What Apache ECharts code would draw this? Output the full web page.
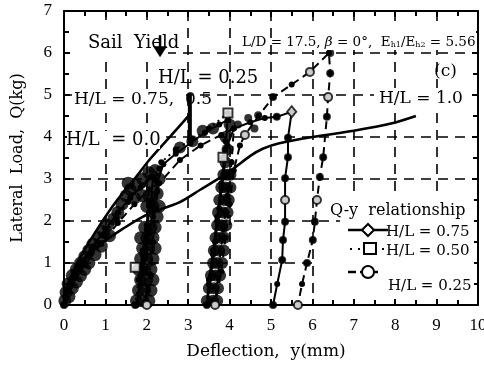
<!DOCTYPE html>
<html>
<head>
<meta charset="utf-8">
<script src="https://cdn.jsdelivr.net/npm/echarts@6/dist/echarts.min.js"></script>
<style>
  html, body { margin: 0; padding: 0; background: #fff; }
  #chart { width: 484px; height: 369px; }
</style>
</head>
<body>
<div id="chart"></div>
<script>
// Axis ticks
const xTicks = [0, 1, 2, 3, 4, 5, 6, 7, 8, 9, 10];
const yTicks = [0, 1, 2, 3, 4, 5, 6, 7];

// Envelope curves, deflection y (mm) vs lateral load Q (kg)
const envelopeHL10 = [[0,0],[0.1,0.45],[0.3,0.85],[0.6,1.2],[0.95,1.5],[1.4,1.8],[1.9,2.1],[2.4,2.3],[2.8,2.45],[3.3,2.75],[3.8,3.05],[4.1,3.25],[4.5,3.55],[4.8,3.72],[5.2,3.85],[6.0,4.0],[7.0,4.15],[7.9,4.32],[8.5,4.5]];
const envelopeHL00 = [[0,0],[0.05,0.35],[0.15,0.65],[0.4,1.15],[0.8,1.8],[1.25,2.45],[1.7,3.0],[2.1,3.5],[2.6,4.05],[3.05,4.55]];
const sailYieldBar = [[3.04,3.8],[3.04,5.05]];

// Q-y loops (loading / unloading / reloading)
const loopHL075 = [[0,0],[0.15,0.5],[0.4,1.0],[0.7,1.4],[1.0,1.8],[1.3,2.2],[1.6,2.55],[1.9,2.85],[2.15,3.05],
  [2.1,2.5],[2.0,1.9],[1.9,1.3],[1.85,0.7],[1.75,0],
  [1.85,0.5],[1.95,1.1],[2.05,1.7],[2.15,2.3],[2.25,2.9],[2.4,3.35],
  [2.7,3.6],[3.05,3.85],[3.4,4.1],[3.75,4.3],[3.95,4.4],
  [3.9,3.7],[3.8,2.9],[3.7,2.1],[3.6,1.3],[3.5,0.6],[3.45,0],
  [3.55,0.7],[3.65,1.5],[3.75,2.3],[3.85,3.1],[3.95,3.8],[4.1,4.2],
  [4.5,4.35],[4.85,4.45],[5.14,4.48],[5.5,4.6],
  [5.41,3.98],[5.41,3.52],[5.34,3.02],[5.34,2.5],[5.34,1.98],[5.29,1.55],[5.27,1.07],[5.15,0.5],[5.05,0]];
const loopHL050 = [[0,0],[0.1,0.35],[0.35,0.85],[0.65,1.25],[0.95,1.65],[1.25,2.05],[1.55,2.45],[1.85,2.8],[2.1,3.05],[2.3,3.25],
  [2.25,2.7],[2.15,2.1],[2.05,1.5],[1.9,0.8],[1.72,0],
  [1.8,0.6],[1.9,1.2],[2.0,1.8],[2.1,2.4],[2.2,3.0],[2.35,3.4],
  [2.7,3.7],[3.1,3.95],[3.5,4.2],[3.96,4.57],
  [3.9,3.9],[3.84,3.52],[3.8,2.8],[3.7,2.0],[3.6,1.2],[3.5,0.5],[3.45,0]];
const loopHL025 = [[0,0],[0.2,0.5],[0.5,0.95],[0.9,1.45],[1.3,1.95],[1.7,2.4],[2.05,2.75],
  [2.05,2.2],[2.0,1.5],[1.95,0.8],[2.0,0],
  [2.1,0.7],[2.15,1.5],[2.2,2.3],[2.3,2.9],
  [2.8,3.45],[3.3,3.8],[3.8,4.05],[4.1,4.2],
  [4.05,3.4],[3.95,2.6],[3.85,1.8],[3.75,1.0],[3.65,0],
  [3.8,0.8],[3.9,1.6],[4.0,2.4],[4.1,3.2],[4.25,3.8],[4.37,4.05],[4.7,4.5],[5.05,4.95],[5.5,5.25],[5.94,5.55],[6.4,6.0],
  [6.43,5.52],[6.38,4.95],[6.35,4.48],[6.26,3.52],[6.18,3.05],[6.11,2.5],[6.06,1.98],[6.01,1.55],[5.87,1.0],[5.75,0.5],[5.65,0]];

// Open marks that stay visible on the loops
const openDiamonds = [[5.5,4.6]];
const openSquares = [[3.96,4.57],[3.84,3.52],[1.72,0.9]];
const openCircles = [[5.34,2.5],[6.11,2.5],[5.94,5.55],[4.37,4.05],[2.0,0],[3.65,0],[5.65,0],[6.38,4.95]];

// Individual measured readings (filled marks)
const readingsNearOrigin = [[0.02,0.1],[0.05,0.3],[0.12,0.2],[0.1,0.5],[0.2,0.4],[0.2,0.7],[0.3,0.55],[0.3,0.85],[0.4,0.7],[0.4,1.0],[0.5,0.85],[0.5,1.15],[0.6,1.0],[0.6,1.3],[0.7,1.45],[0.75,1.2],[0.85,1.6],[0.9,1.4],[0.95,1.75],[1.05,1.9],[1.1,1.65],[1.2,2.05],[1.3,2.2],[1.4,2.4],[1.5,2.6],[1.6,2.75],[1.75,2.85],[1.55,2.9],[1.9,3.0],[2.05,3.15]];
const readingsAt2mm = [[1.75,0.1],[1.9,0.1],[2.05,0.1],[1.8,0.35],[1.95,0.35],[2.1,0.35],[1.85,0.6],[2.0,0.6],[2.15,0.6],[1.8,0.85],[1.95,0.85],[2.1,0.85],[1.85,1.1],[2.0,1.1],[2.15,1.1],[1.9,1.35],[2.05,1.35],[2.2,1.35],[1.85,1.6],[2.0,1.6],[2.15,1.6],[1.95,1.85],[2.1,1.85],[2.2,1.85],[2.25,2.1],[2.0,2.35],[2.15,2.35],[2.3,2.35],[2.05,2.6],[2.25,2.65],[1.9,2.6],[2.1,2.9],[2.3,3.0],[2.2,3.2],[1.7,2.55]];
const readingsAt4mm = [[3.45,0.1],[3.6,0.1],[3.7,0.1],[3.5,0.4],[3.62,0.4],[3.72,0.4],[3.55,0.7],[3.66,0.7],[3.77,0.7],[3.6,1.0],[3.7,1.0],[3.82,1.0],[3.62,1.3],[3.74,1.3],[3.86,1.3],[3.66,1.6],[3.78,1.6],[3.88,1.6],[3.7,1.9],[3.8,1.9],[3.92,1.9],[3.72,2.2],[3.84,2.2],[3.95,2.2],[3.75,2.5],[3.87,2.5],[3.98,2.5],[3.8,2.8],[3.9,2.8],[4.02,2.8],[3.85,3.1],[3.95,3.1],[4.02,3.1],[3.9,3.4],[3.95,3.7],[3.9,4.0],[4.0,4.3],[3.35,4.15],[3.6,4.2],[2.8,3.75],[3.1,3.9]];
const readingsRight = [[5.14,4.48],[5.41,3.98],[5.41,3.52],[5.34,3.02],[5.34,1.98],[5.29,1.55],[5.27,1.07],[5.05,0],[5.05,4.95],[6.43,6.0],[6.43,5.52],[6.35,4.48],[6.26,3.52],[6.18,3.05],[6.06,1.98],[6.01,1.55],[5.87,1.0],[4.2,4.3],[4.45,4.45],[4.69,4.52],[4.6,4.2],[0,0],[1.72,0],[3.45,0]];

// Sail yield marker position
const sailYield = [2.32, 5.9];

const SERIF = '"DejaVu Serif", "Liberation Serif", serif';

const chart = echarts.init(document.getElementById('chart'), null, { renderer: 'canvas' });

function axisBase() {
  return {
    axisLine: { show: true, onZero: false, lineStyle: { color: '#000', width: 2 } },
    axisTick: { show: true, inside: true, length: 6, lineStyle: { color: '#000', width: 2 } },
    minorTick: { show: true, splitNumber: 2, length: 5, lineStyle: { color: '#000', width: 2 } }
  };
}
function dashedGrid() {
  return { show: true, lineStyle: { color: '#000', width: 1.6, type: [10, 7] } };
}

function loopSeries(name, data, lineType) {
  return {
    name, type: 'line', data, symbol: 'circle', symbolSize: 6,
    lineStyle: { color: '#000', width: 2, type: lineType },
    itemStyle: { color: '#000' },
    z: 5
  };
}
function dotSeries(data, size) {
  return { type: 'scatter', data, symbol: 'circle', symbolSize: size, itemStyle: { color: '#000' }, z: 4 };
}
function openSeries(data, symbol, size) {
  return { type: 'scatter', data, symbol, symbolSize: size,
    itemStyle: { color: '#fff', borderColor: '#000', borderWidth: 2 }, z: 7 };
}

chart.setOption({
  backgroundColor: '#fff',
  animation: false,
  grid: { left: 64, right: 6, top: 11, bottom: 64, outerBoundsMode: 'none' },
  xAxis: [
    Object.assign(axisBase(), {
      type: 'value', min: xTicks[0], max: xTicks[xTicks.length - 1], interval: 1, position: 'bottom',
      axisLabel: { color: '#000', fontFamily: '"Liberation Serif", serif', fontSize: 17, margin: 12 },
      splitLine: dashedGrid(),
      name: 'Deflection,  y(mm)', nameLocation: 'middle', nameGap: 38,
      nameTextStyle: { color: '#000', fontFamily: SERIF, fontSize: 17, padding: [0, 10, 0, 0] }
    }),
    Object.assign(axisBase(), {
      type: 'value', min: xTicks[0], max: xTicks[xTicks.length - 1], interval: 1, position: 'top',
      axisLabel: { show: false }, splitLine: { show: false }
    })
  ],
  yAxis: [
    Object.assign(axisBase(), {
      type: 'value', min: yTicks[0], max: yTicks[yTicks.length - 1], interval: 1, position: 'left',
      axisLabel: { color: '#000', fontFamily: '"Liberation Serif", serif', fontSize: 17, margin: 12 },
      splitLine: dashedGrid(),
      name: 'Lateral  Load,  Q(kg)', nameLocation: 'middle', nameGap: 38,
      nameTextStyle: { color: '#000', fontFamily: SERIF, fontSize: 16 }
    }),
    Object.assign(axisBase(), {
      type: 'value', min: yTicks[0], max: yTicks[yTicks.length - 1], interval: 1, position: 'right',
      axisLabel: { show: false }, splitLine: { show: false }
    })
  ],
  series: [
    { name: 'H/L = 1.0', type: 'line', data: envelopeHL10, smooth: 0.3, symbol: 'none',
      lineStyle: { color: '#000', width: 2.6 }, z: 6 },
    { name: 'H/L = 0.0', type: 'line', data: envelopeHL00, smooth: 0.3, symbol: 'none',
      lineStyle: { color: '#000', width: 2.6 }, z: 6 },
    { type: 'line', data: sailYieldBar, symbol: 'none', lineStyle: { color: '#000', width: 4 }, z: 6 },
    dotSeries(readingsNearOrigin, 13),
    dotSeries(readingsAt2mm, 13),
    dotSeries(readingsAt4mm, 12),
    dotSeries(readingsRight, 8),
    loopSeries('H/L = 0.75', loopHL075, 'solid'),
    loopSeries('H/L = 0.50', loopHL050, [2, 4]),
    loopSeries('H/L = 0.25', loopHL025, [8, 5]),
    openSeries(openDiamonds, 'diamond', [9, 11]),
    openSeries(openSquares, 'rect', 9),
    openSeries(openCircles, 'circle', 8)
  ]
});

// Annotations and key, on their own layer above the plot;
// white boxes keep the dashed grid out from behind the text
const txt = (text, x, y, size) => ({
  type: 'text', zlevel: 1, z: 2,
  style: { text, x, y, fill: '#000', font: size + 'px ' + SERIF, verticalAlign: 'middle' }
});
const blank = (x0, y0, x1, y1) => ({
  type: 'rect', zlevel: 1, z: 0, shape: { x: x0, y: y0, width: x1 - x0, height: y1 - y0 }, style: { fill: '#fff' }
});

const yp = chart.convertToPixel({ xAxisIndex: 0, yAxisIndex: 0 }, sailYield);

chart.setOption({
  graphic: [
    blank(70, 20, 168, 57),
    blank(276, 26, 476, 50),
    blank(72, 90, 186, 110),
    blank(67, 131, 160, 149),
    blank(374, 88, 472, 108),
    blank(340, 198, 474, 240),
    blank(318, 240, 474, 297),
    txt('Sail  Yield', 88, 43, 18),
    { type: 'line', zlevel: 1, z: 2, shape: { x1: yp[0], y1: yp[1] - 22, x2: yp[0], y2: yp[1] - 8 }, style: { stroke: '#000', lineWidth: 2.5 } },
    { type: 'polygon', zlevel: 1, z: 2, shape: { points: [[yp[0] - 7, yp[1] - 11], [yp[0] + 7, yp[1] - 11], [yp[0], yp[1]]] }, style: { fill: '#000' } },
    { type: 'text', zlevel: 1, z: 2, style: {
        x: 242, y: 42, verticalAlign: 'middle', fill: '#000',
        text: '{t|L/D = 17.5, }{g|β}{t| = 0°,  E}{s|h1}{t|/E}{s|h2}{t| = 5.56}',
        rich: {
          t: { fontFamily: SERIF, fontSize: 13.5, fill: '#000' },
          g: { fontFamily: SERIF, fontSize: 13.5, fontStyle: 'italic', fill: '#000' },
          s: { fontFamily: SERIF, fontSize: 8, fill: '#000', verticalAlign: 'bottom', padding: [6, 0, 0, 0] }
        } } },
    txt('(c)', 434, 72, 17),
    txt('H/L = 0.25', 158, 78, 18),
    txt('H/L = 0.75,  0.5', 74, 100, 17),
    txt('H/L = 1.0', 379, 99, 17),
    txt('H/L  = 0.0', 66, 140, 18),
    txt('Q-y  relationship', 330, 211, 16),
    { type: 'line', zlevel: 1, z: 2, shape: { x1: 348, y1: 230, x2: 388, y2: 230 }, style: { stroke: '#000', lineWidth: 2.5 } },
    { type: 'polygon', zlevel: 1, z: 3, shape: { points: [[368, 224], [374, 230], [368, 236], [362, 230]] }, style: { fill: '#fff', stroke: '#000', lineWidth: 2 } },
    txt('H/L = 0.75', 386, 232, 15),
    { type: 'line', zlevel: 1, z: 2, shape: { x1: 350, y1: 249, x2: 386, y2: 249 }, style: { stroke: '#000', lineWidth: 2, lineDash: [2, 6] } },
    { type: 'rect', zlevel: 1, z: 3, shape: { x: 364, y: 243, width: 12, height: 11 }, style: { fill: '#fff', stroke: '#000', lineWidth: 2 } },
    txt('H/L = 0.50', 386, 251, 15),
    { type: 'line', zlevel: 1, z: 2, shape: { x1: 348, y1: 272, x2: 378, y2: 272 }, style: { stroke: '#000', lineWidth: 2.5, lineDash: [8, 4] } },
    { type: 'circle', zlevel: 1, z: 3, shape: { cx: 368, cy: 272, r: 6 }, style: { fill: '#fff', stroke: '#000', lineWidth: 2 } },
    txt('H/L = 0.25', 388, 286, 15)
  ]
});
</script>
</body>
</html>
